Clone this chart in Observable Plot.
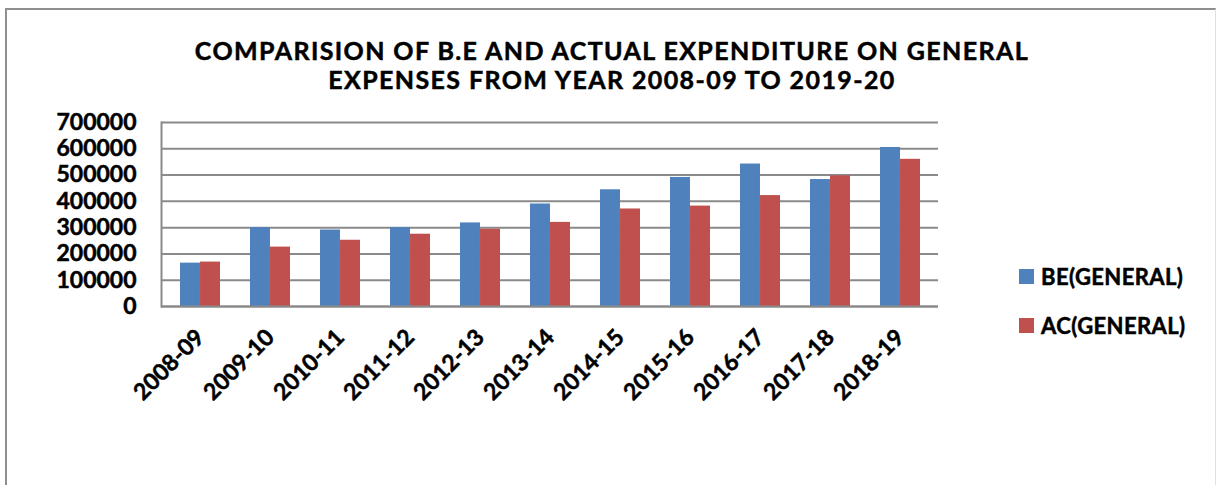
<!DOCTYPE html>
<html>
<head>
<meta charset="utf-8">
<script src="https://cdn.jsdelivr.net/npm/d3@7"></script>
<script src="https://cdn.jsdelivr.net/npm/@observablehq/plot@0.6"></script>
<style>
  html, body { margin: 0; padding: 0; background: #fff; }
  #wrap { position: relative; width: 1216px; height: 485px; overflow: hidden; font-family: Lato, "Open Sans", sans-serif; }
  #border { position: absolute; left: 5px; top: 8px; width: 1208px; height: 600px;
            border-left: 2px solid #8f8f8f; border-top: 2px solid #8f8f8f; border-right: 1px solid #e0e0e0; }
  .title { position: absolute; left: 0; width: 1224px; text-align: center; font-weight: 700; font-size: 25px; letter-spacing: 1.4px; color: #000; white-space: nowrap; -webkit-text-stroke: 0.5px #000; }
  #chart { position: absolute; left: 0; top: 0; }
  #chart text { stroke: #000; stroke-width: 0.5px; }
  .legend { position: absolute; left: 1019px; display: flex; align-items: center; font-weight: 700; font-size: 22px; letter-spacing: 0.4px; color: #000; white-space: nowrap; -webkit-text-stroke: 0.5px #000; }
  .legend .sw { width: 15px; height: 15px; margin-right: 7px; }
</style>
</head>
<body>
<div id="wrap">
  <div id="border"></div>
  <div class="title" id="t1" style="top:35px"></div>
  <div class="title" id="t2" style="top:64px"></div>
  <div id="chart"></div>
  <div class="legend" id="lg0" style="top:263px"></div>
  <div class="legend" id="lg1" style="top:312px"></div>
</div>
<script>
// ---- data ----
const years = ["2008-09","2009-10","2010-11","2011-12","2012-13","2013-14","2014-15","2015-16","2016-17","2017-18","2018-19"];
const beGeneral = [165000, 300000, 291000, 300000, 318000, 390000, 444000, 491000, 542000, 483000, 605000];
const acGeneral = [169000, 226000, 252000, 275000, 294000, 320000, 371000, 382000, 422000, 497000, 560000];
const seriesNames = ["BE(GENERAL)", "AC(GENERAL)"];
const seriesColors = ["#4f81bd", "#c0504d"];
const yTicks = [0, 100000, 200000, 300000, 400000, 500000, 600000, 700000];
const titleLines = ["COMPARISION OF B.E AND ACTUAL EXPENDITURE ON GENERAL", "EXPENSES FROM YEAR 2008-09 TO 2019-20"];

// ---- layout ----
const W = 1216, H = 420, mL = 161, mR = 278, mT = 122, mB = 114;
const xOpts = {type: "band", domain: years, paddingInner: 0.433, paddingOuter: 0.2165};
const xs = Plot.scale({x: {...xOpts, range: [mL, W - mR]}});
const half = xs.bandwidth / 2;

const beRows = years.map((y, i) => ({year: y, value: beGeneral[i]}));
const acRows = years.map((y, i) => ({year: y, value: acGeneral[i]}));

const chart = Plot.plot({
  width: W, height: H,
  marginLeft: mL, marginRight: mR, marginTop: mT, marginBottom: mB,
  style: {fontFamily: "Lato, 'Open Sans', sans-serif", fontWeight: "bold", color: "#000", background: "transparent", overflow: "visible"},
  x: {...xOpts, label: null},
  y: {domain: [0, 700000], label: null},
  marks: [
    Plot.gridY(yTicks, {stroke: "#8a8a8a", strokeOpacity: 1, strokeWidth: 2}),
    Plot.frame({anchor: "left", stroke: "#8a8a8a", strokeWidth: 2}),
    Plot.barY(beRows, {x: "year", y: "value", fill: seriesColors[0], insetRight: half}),
    Plot.barY(acRows, {x: "year", y: "value", fill: seriesColors[1], insetLeft: half}),
    Plot.ruleY([0], {stroke: "#8a8a8a", strokeWidth: 2}),
    Plot.axisY(yTicks, {tickSize: 0, tickPadding: 25, tickFormat: d => String(d), fontSize: 23, fontWeight: "bold", fill: "#000"}),
    Plot.axisX({tickSize: 0, tickPadding: 27, tickRotate: -45, fontSize: 23, fontWeight: "bold", fill: "#000"})
  ]
});
document.getElementById("chart").appendChild(chart);

document.getElementById("t1").textContent = titleLines[0];
document.getElementById("t2").textContent = titleLines[1];
seriesNames.forEach((n, i) => {
  const el = document.getElementById("lg" + i);
  const sw = document.createElement("div");
  sw.className = "sw"; sw.style.background = seriesColors[i];
  const tx = document.createElement("span"); tx.textContent = n;
  el.appendChild(sw); el.appendChild(tx);
});
</script>
</body>
</html>
